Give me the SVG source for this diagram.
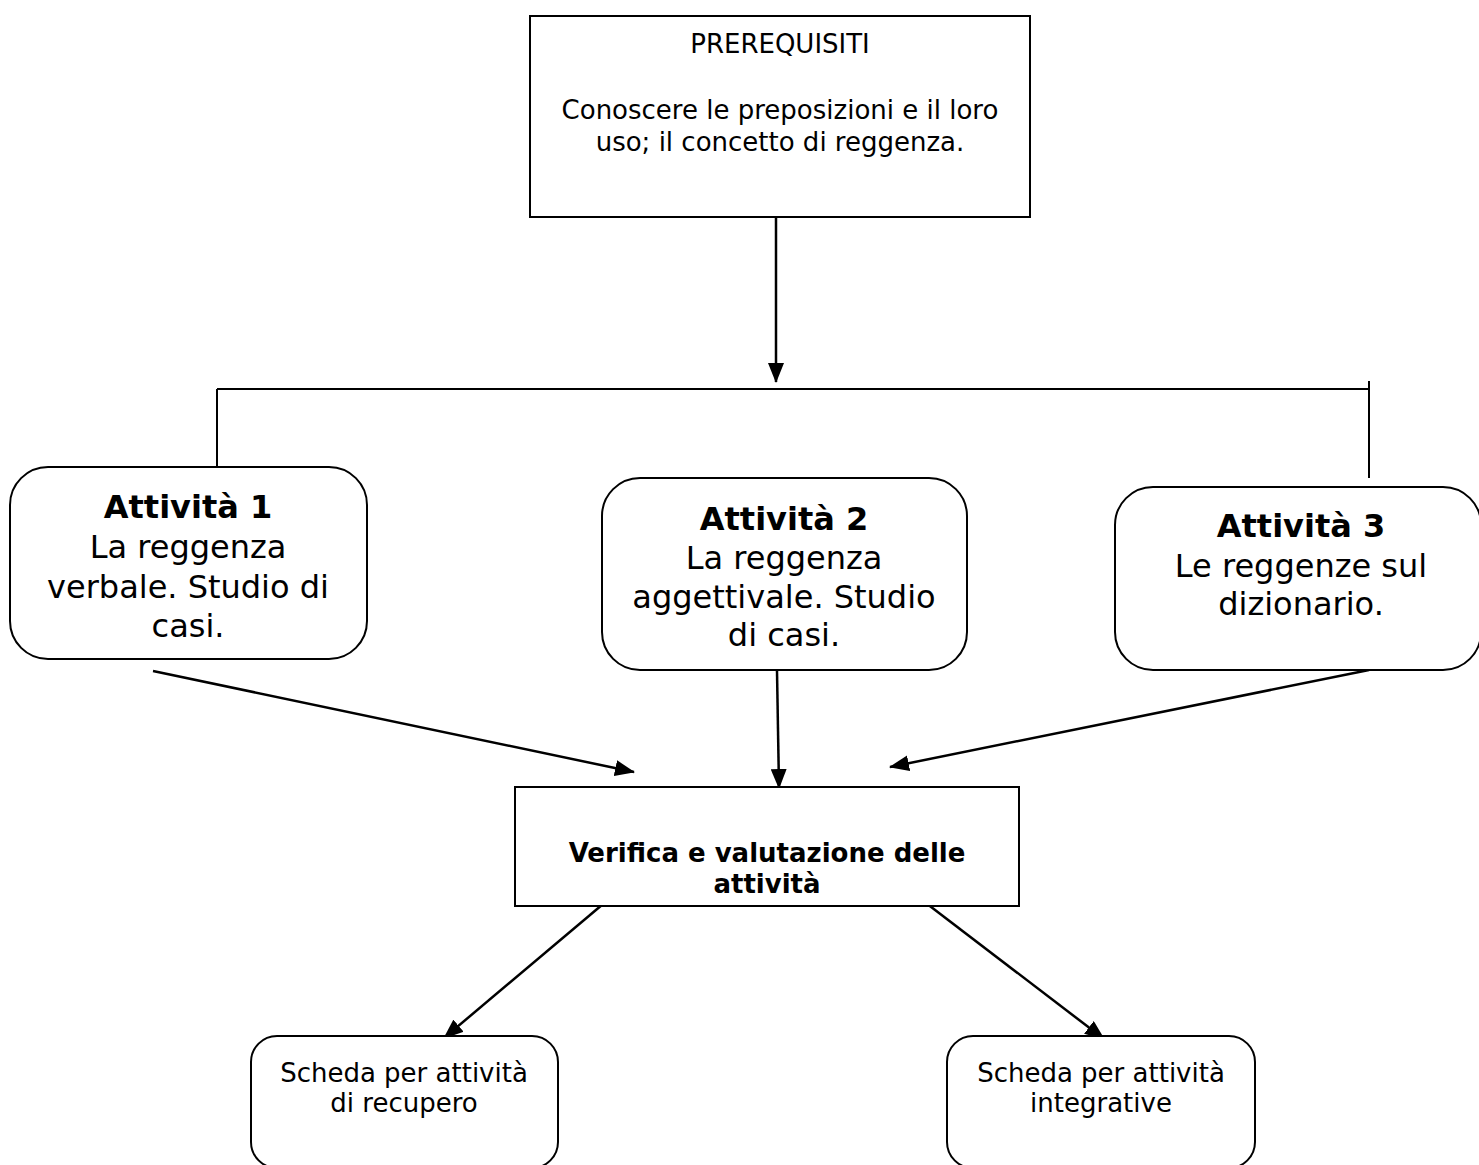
<svg xmlns="http://www.w3.org/2000/svg" width="1479" height="1165" viewBox="0 0 1479 1165">
<style>
.box{fill:#fff;stroke:#000;stroke-width:2}
.t{font-family:Verdana,"DejaVu Sans",sans-serif;fill:#000;text-anchor:middle}
.s{font-size:26px}
.m{font-size:32px}
.b{font-weight:bold}
.ln{fill:none;stroke:#000;stroke-width:2}
.ar{fill:none;stroke:#000;stroke-width:2.5;marker-end:url(#ah)}
</style>
<defs>
<marker id="ah" viewBox="0 0 20 16" refX="19" refY="8" markerWidth="20" markerHeight="16" markerUnits="userSpaceOnUse" orient="auto">
<path d="M0,0 L20,8 L0,16 z" fill="#000"/>
</marker>
</defs>
<rect width="1479" height="1165" fill="#fff"/>
<g id="connectors">
<line class="ar" x1="776" y1="217" x2="776" y2="382"/>
<line class="ln" x1="217" y1="389" x2="1369" y2="389"/>
<line class="ln" x1="217" y1="389" x2="217" y2="467"/>
<line class="ln" x1="1369" y1="381" x2="1369" y2="478"/>
<line class="ar" x1="153" y1="671" x2="634" y2="772"/>
<line class="ar" x1="777" y1="671" x2="779" y2="788"/>
<line class="ar" x1="1369" y1="670" x2="890" y2="767"/>
<line class="ar" x1="609" y1="899" x2="444" y2="1038"/>
<line class="ar" x1="922" y1="900" x2="1104" y2="1039"/>
</g>
<g id="prerequisiti">
<rect class="box" x="530" y="16" width="500" height="201"/>
<text class="t s" x="780" y="53">PREREQUISITI</text>
<text class="t s" x="780" y="119">Conoscere le preposizioni e il loro</text>
<text class="t s" x="780" y="151">uso; il concetto di reggenza.</text>
</g>
<g id="attivita1">
<rect class="box" x="10" y="467" width="357" height="192" rx="38"/>
<text class="t m b" x="188" y="518">Attività 1</text>
<text class="t m" x="188" y="558">La reggenza</text>
<text class="t m" x="188" y="598">verbale. Studio di</text>
<text class="t m" x="188" y="637">casi.</text>
</g>
<g id="attivita2">
<rect class="box" x="602" y="478" width="365" height="192" rx="38"/>
<text class="t m b" x="784" y="530">Attività 2</text>
<text class="t m" x="784" y="569">La reggenza</text>
<text class="t m" x="784" y="608">aggettivale. Studio</text>
<text class="t m" x="784" y="646">di casi.</text>
</g>
<g id="attivita3">
<rect class="box" x="1115" y="487" width="366" height="183" rx="38"/>
<text class="t m b" x="1301" y="537">Attività 3</text>
<text class="t m" x="1301" y="577">Le reggenze sul</text>
<text class="t m" x="1301" y="615">dizionario.</text>
</g>
<g id="verifica">
<rect class="box" x="515" y="787" width="504" height="119"/>
<text class="t s b" x="767" y="862">Verifica e valutazione delle</text>
<text class="t s b" x="767" y="893">attività</text>
</g>
<g id="recupero">
<rect class="box" x="251" y="1036" width="307" height="132" rx="26"/>
<text class="t s" x="404" y="1082">Scheda per attività</text>
<text class="t s" x="404" y="1112">di recupero</text>
</g>
<g id="integrative">
<rect class="box" x="947" y="1036" width="308" height="132" rx="26"/>
<text class="t s" x="1101" y="1082">Scheda per attività</text>
<text class="t s" x="1101" y="1112">integrative</text>
</g>
</svg>
